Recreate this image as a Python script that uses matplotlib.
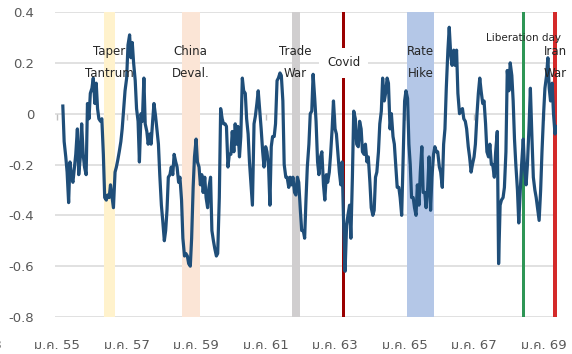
import datetime as dt

import matplotlib
matplotlib.use('Agg')
import matplotlib.pyplot as plt
import matplotlib.transforms as mtransforms
import pandas as pd
from matplotlib import font_manager
from matplotlib.ft2font import FT2Font

# semi-monthly readings, first point 1 Mar 2012
y2012 = [0.03, -0.11, -0.17, -0.23, -0.35, -0.19, -0.25, -0.27, -0.21, -0.16, -0.06, -0.24,
         -0.17, -0.04, -0.16, -0.21, -0.24, 0.04, -0.02, 0.08]
y2013 = [0.10, 0.14, 0.04, 0.12, 0.02, -0.02, -0.03, -0.02, -0.16, -0.33, -0.34, -0.32,
         -0.33, -0.28, -0.33, -0.37, -0.23, -0.21, -0.18, -0.15, -0.11, -0.06, 0.02, 0.09]
y2014 = [0.14, 0.27, 0.31, 0.22, 0.28, 0.20, 0.13, 0.02, -0.03, -0.19, 0.00, -0.03,
         0.14, -0.04, -0.07, -0.12, -0.08, -0.12, -0.03, 0.04, -0.01, -0.06, -0.12, -0.24]
y2015 = [-0.36, -0.42, -0.50, -0.46, -0.38, -0.25, -0.24, -0.21, -0.24, -0.16, -0.19, -0.21,
         -0.27, -0.25, -0.34, -0.49, -0.56, -0.55, -0.56, -0.59, -0.60, -0.49, -0.29, -0.17]
y2016 = [-0.10, -0.19, -0.21, -0.28, -0.24, -0.31, -0.25, -0.33, -0.37, -0.29, -0.25, -0.46,
         -0.50, -0.53, -0.56, -0.55, -0.33, 0.02, -0.02, -0.04, -0.04, -0.05, -0.21, -0.16]
y2017 = [-0.16, -0.07, -0.15, -0.04, -0.12, -0.05, -0.17, -0.09, 0.14, 0.09, 0.08, -0.02,
         -0.08, -0.19, -0.28, -0.36, -0.04, -0.01, 0.04, 0.09, 0.01, -0.06, -0.15, -0.21]
y2018 = [-0.13, -0.15, -0.21, -0.36, -0.13, -0.09, -0.09, -0.04, 0.13, 0.14, 0.16, 0.15,
         0.05, -0.20, -0.25, -0.25, -0.29, -0.25, -0.28, -0.25, -0.31, -0.32, -0.25, -0.27]
y2019 = [-0.38, -0.46, -0.46, -0.49, -0.34, -0.21, -0.12, 0.00, 0.01, 0.155, 0.06, -0.03,
         -0.19, -0.24, -0.17, -0.15, -0.28, -0.34, -0.24, -0.27, -0.23, -0.16, -0.06, 0.05]
y2020 = [-0.06, -0.08, -0.16, -0.23, -0.28, -0.19, -0.45, -0.62, -0.44, -0.40, -0.36, -0.49,
         -0.25, 0.01, -0.02, -0.12, -0.13, -0.03, -0.06, -0.15, -0.16, -0.12, -0.19, -0.17]
y2021 = [-0.27, -0.37, -0.40, -0.38, -0.25, -0.23, -0.15, -0.04, 0.01, 0.14, 0.05, 0.08,
         0.14, 0.12, -0.06, 0.00, -0.09, -0.12, -0.21, -0.29, -0.29, -0.33, -0.40, -0.20]
y2022 = [0.05, 0.09, 0.06, -0.12, -0.20, -0.33, -0.33, -0.37, -0.40, -0.28, -0.36, -0.23,
         -0.13, -0.31, -0.31, -0.37, -0.29, -0.17, -0.38, -0.25, -0.16, -0.13, -0.15, -0.15]
y2023 = [-0.21, -0.23, -0.29, -0.12, -0.06, 0.10, 0.25, 0.34, 0.23, 0.19, 0.25, 0.19,
         0.25, 0.08, 0.00, 0.01, 0.02, -0.02, -0.03, -0.06, -0.13, -0.17, -0.23, -0.20]
y2024 = [-0.17, -0.12, 0.00, 0.08, 0.14, 0.09, 0.04, 0.05, -0.04, -0.15, -0.17, -0.12,
         -0.20, -0.20, -0.25, -0.15, -0.07, -0.59, -0.36, -0.34, -0.33, -0.29, -0.15, 0.17]
y2025 = [0.09, 0.20, 0.15, 0.05, -0.10, -0.20, -0.30, -0.43, -0.30, -0.20, -0.10, -0.22,
         -0.28, -0.20, -0.05, 0.10, -0.10, -0.25, -0.30, -0.33, -0.38, -0.42, -0.30, -0.15]
y2026 = [0.00, 0.10, 0.15, 0.22, 0.10, 0.05, 0.12, 0.00, -0.08, -0.05]

# events: label, start, end, colour
ev_names = ['Taper\nTantrum', 'China\nDeval.', 'Trade\nWar', 'Covid', 'Rate\nHike', 'Liberation day', 'Iran\nWar']
ev_start = ['2013-05-08', '2015-08-01', '2018-10-01', '2020-03-10', '2022-01-27', '2025-05-16', '2026-04-10']
ev_end = ['2013-09-02', '2016-02-06', '2018-12-23', '2020-04-18', '2022-11-06', '2025-06-20', '2026-05-22']
ev_colors = ['#fff2cc', '#fbe5d6', '#d0cecf', '#9a0000', '#b4c7e7', '#2e9656', '#d42a2a']
ev_label_y = [0.20, 0.20, 0.20, 0.20, 0.20, 0.296, 0.20]

yticks = [-0.8, -0.6, -0.4, -0.2, 0, 0.2, 0.4]
ytick_labels = ['-0.8', '-0.6', '-0.4', '-0.2', '0', '0.2', '0.4']
tick_years = [2012, 2014, 2016, 2018, 2020, 2022, 2024, 2026]


def thai_font():
    found = []
    for f in font_manager.fontManager.ttflist:
        try:
            if 0x0E21 in FT2Font(f.fname).get_charmap():
                found.append(f.name)
        except Exception:
            continue
    for pref in ['Tahoma', 'Leelawadee UI', 'Noto Sans Thai', 'Noto Sans Thai UI', 'Sarabun',
                 'Loma', 'Garuda', 'Waree', 'Norasi', 'Kinnari']:
        if pref in found:
            return pref
    return found[0] if found else None


th = thai_font()
fams = ['DejaVu Sans'] + ([th] if th else [])
plt.rcParams['font.family'] = fams

values = y2012 + y2013 + y2014 + y2015 + y2016 + y2017 + y2018 + y2019 + y2020 + \
    y2021 + y2022 + y2023 + y2024 + y2025 + y2026
dates = pd.date_range('2012-03-01', periods=len(values), freq='SMS')

fig = plt.figure(figsize=(5.72, 3.54), dpi=100)
ax = fig.add_axes([0.0962, 0.1045, 0.8776, 0.8616])

ax.set_ylim(-0.8, 0.4)
ax.set_xlim(dt.datetime(2011, 12, 10), dt.datetime(2026, 5, 22))
ax.set_yticks(yticks)
ax.set_yticklabels(ytick_labels)
ax.grid(axis='y', color='#d9d9d9', lw=1.1, zorder=0)
ax.set_axisbelow(True)
for s in ax.spines.values():
    s.set_visible(False)

xt = [dt.datetime(y, 1, 1) for y in tick_years]
ax.set_xticks(xt)
ax.set_xticklabels(['ม.ค. %02d' % ((y + 543) % 100) for y in tick_years])
ax.tick_params(axis='both', length=0, labelsize=9.5, labelcolor='#595959')
ax.tick_params(axis='x', pad=16)
ax.tick_params(axis='y', pad=15)

# small tick marks on the zero line
ax.plot(xt, [0] * len(xt), ls='none', marker=3, ms=4, mew=1, color='#bfbfbf', zorder=1)

# cut-off label on the far left, as in the original
tr = mtransforms.offset_copy(ax.get_xaxis_transform(), fig=fig, x=-6, y=-16, units='points')
ax.text(dt.datetime(2010, 1, 1), 0, 'ม.ค. %02d' % ((2010 + 543) % 100), transform=tr,
        ha='center', va='top', fontsize=9.5, color='#595959', clip_on=False)

for name, a, b, c, ly in zip(ev_names, ev_start, ev_end, ev_colors, ev_label_y):
    ax.axvspan(pd.Timestamp(a), pd.Timestamp(b), color=c, lw=0, zorder=1)
    mid = pd.Timestamp(a) + (pd.Timestamp(b) - pd.Timestamp(a)) / 2
    fs = 7.5 if name == 'Liberation day' else 8.5
    kw = {}
    if name == 'Covid':
        kw['bbox'] = dict(boxstyle='square,pad=0.7', fc='white', ec='none')
    ax.text(mid, ly, name, ha='center', va='center', fontsize=fs, color='#262626',
            linespacing=1.9, zorder=4, **kw)

ax.plot(dates, values, color='#1f4e79', lw=2.3, zorder=3, solid_joinstyle='round')

fig.savefig('out.png', dpi=100)
